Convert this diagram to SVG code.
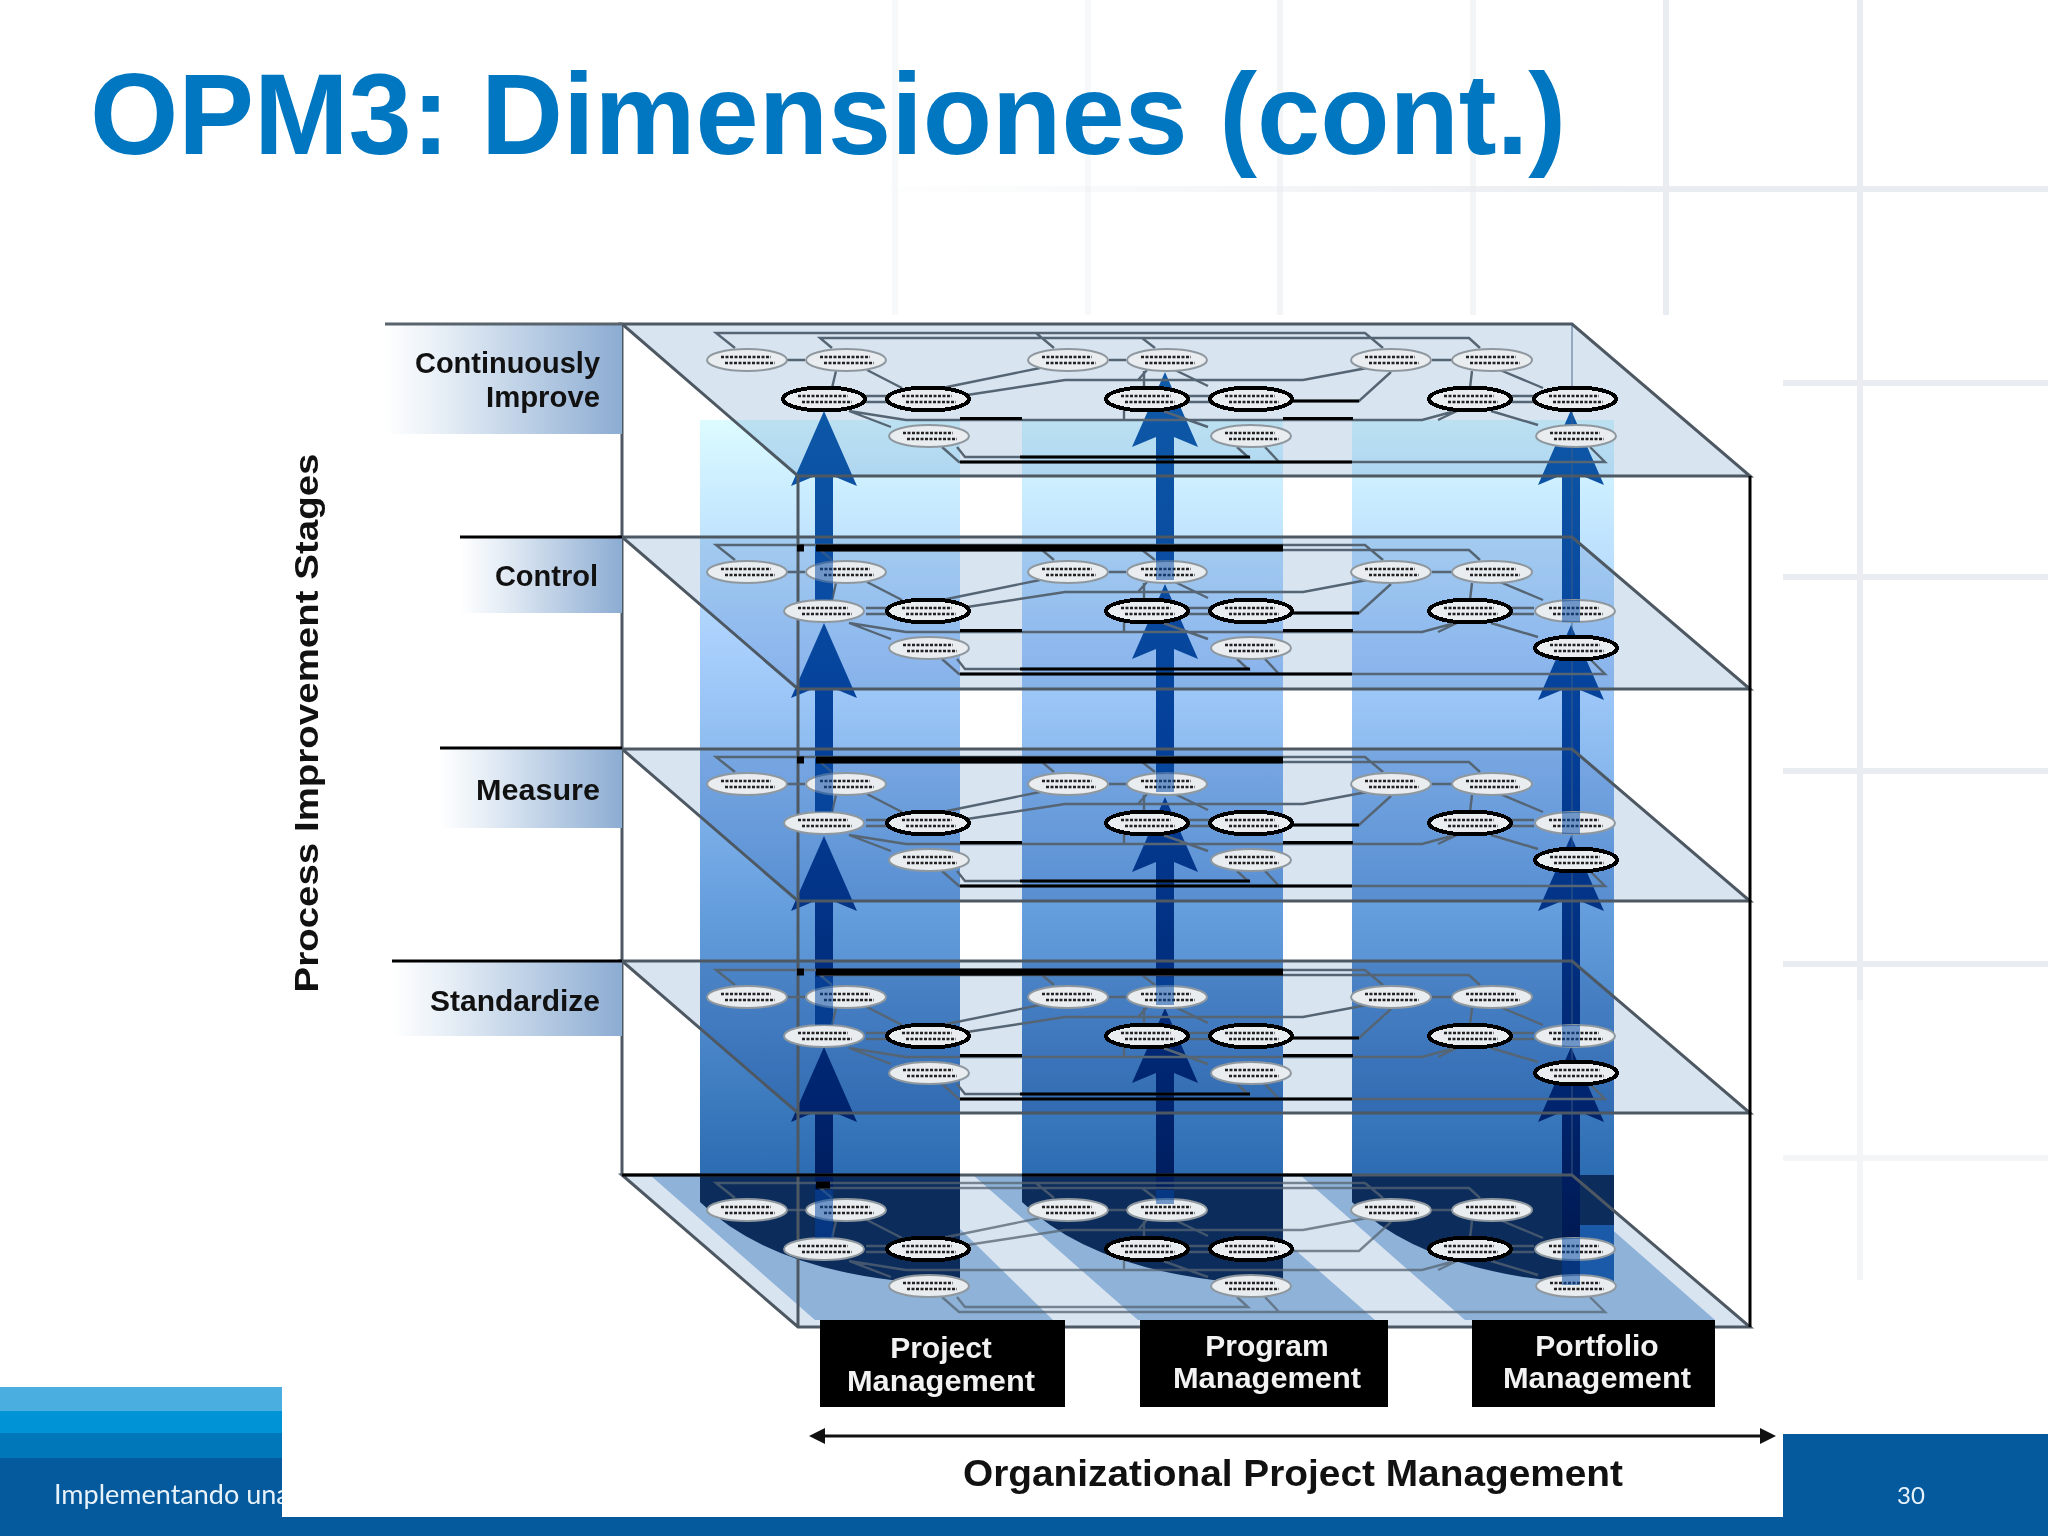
<svg xmlns="http://www.w3.org/2000/svg" xmlns:xlink="http://www.w3.org/1999/xlink" width="2048" height="1536" viewBox="0 0 2048 1536">
<style>
text{font-family:"Liberation Sans",Arial,sans-serif;font-weight:700}
.grid{stroke:#e9ecf0;stroke-width:6;fill:none}
.plane{fill:#d9e4f1;mix-blend-mode:multiply}
.w{fill:none;stroke:#566573;stroke-width:2.4}
.wk{fill:none;stroke:#000;stroke-width:3}
.edge{fill:none;stroke:#4d5862;stroke-width:3}
.lab{font-size:29px;fill:#111;text-anchor:end}
.box{fill:#000}
.boxt{font-size:30px;fill:#f2f2f2;text-anchor:middle}
.foot{font-family:Lato,"Open Sans",sans-serif;font-weight:400;font-size:27px;fill:#e8f2fa}
.thin{fill:#e9edf0;stroke:#8f989f;stroke-width:2}
.bold{fill:#e9edf0;stroke:#000;stroke-width:4;shape-rendering:crispEdges}
.txt{fill:none;stroke:#222;stroke-width:2.6;stroke-dasharray:3 1.5}
</style>
<defs>
<linearGradient id="band" gradientUnits="userSpaceOnUse" x1="0" y1="420" x2="0" y2="1175">
<stop offset="0" stop-color="#dcfcff"/><stop offset=".08" stop-color="#cdefff"/><stop offset=".3" stop-color="#a8cffc"/><stop offset=".62" stop-color="#6aa2e0"/><stop offset="1" stop-color="#2c6cb2"/>
</linearGradient>
<linearGradient id="arrow" gradientUnits="userSpaceOnUse" x1="0" y1="372" x2="0" y2="1285">
<stop offset="0" stop-color="#0f5aa8"/><stop offset=".4" stop-color="#04409a"/><stop offset=".8" stop-color="#00246e"/><stop offset="1" stop-color="#00164a"/>
</linearGradient>
<linearGradient id="tab"><stop offset="0" stop-color="#fff"/><stop offset=".25" stop-color="#e6eef6"/><stop offset="1" stop-color="#8cacd2"/></linearGradient>
<linearGradient id="gridfade" gradientUnits="userSpaceOnUse" x1="850" y1="0" x2="1650" y2="0">
<stop offset="0" stop-color="#e9ecf0" stop-opacity="0"/><stop offset="1" stop-color="#e9ecf0"/>
</linearGradient>
<polygon id="pl" points="622,324 1572,324 1750,476 798,476"/>
<g id="t"><ellipse class="thin" rx="40" ry="11"/><path class="txt" d="M-26-3H24M-22 3H28"/></g>
<g id="b"><ellipse class="bold" rx="41" ry="11.500"/><path class="txt" d="M-26-3H24M-22 3H28"/></g>
<g id="wires">
<path class="w" d="M735 348L716 333H1365L1383 348M1036 333L1054 348M832 348L820 338H1469L1480 348M1142 338L1155 348"/>
<path class="w" d="M787 360H805M1109 360H1126M1432 360H1452M836 371L832 388M1144 371V388M1472 371L1470 388M867 370L902 388M1175 370L1208 386M1500 370L1543 388"/>
<path class="w" d="M866 396H888M866 402H888M1188 396H1210M1188 402H1210M1512 396H1534M1512 402H1534"/>
<path class="w" d="M942 388L1040 368M967 395L1065 380H1303L1367 368M1138 380L1147 370M1291 401H1359L1391 372"/>
<path class="w" d="M849 411L906 420H1422L1459 410L1438 420M1124 410V420M849 411L891 427M1163 411L1208 427M1491 411L1538 425"/>
<path class="w" d="M942 447L959 462H1605L1590 447M957 447L965 457H1248L1237 447M1265 447L1279 462"/>
</g>
<g id="wiresk">
<path class="wk" d="M960 418.500H1022M1283 418.500H1353M1020 457H1250M960 462H1352M1291 401H1359"/>
</g>
<path id="wtop" d="M816 548H1283M797 548H804" stroke="#000" stroke-width="7" fill="none"/>
</defs>

<rect width="2048" height="1536" fill="#fff"/>
<g id="background-grid">
<path class="grid" opacity=".35" d="M895 0V315M1088 0V315"/>
<path class="grid" opacity=".6" d="M1280 0V315M1473 0V315"/>
<path class="grid" d="M1666 0V315M1860 0V1000M1783 383H2048M1783 577H2048M1783 771H2048M1783 964H2048"/>
<path d="M850 189H1650" stroke="url(#gridfade)" stroke-width="6" fill="none"/>
<path class="grid" d="M1650 189H2048"/>
<path class="grid" opacity=".5" d="M1783 1158H2048M1860 1000V1280"/>
</g>
<rect id="image-ground" x="282" y="315" width="1501" height="1202" fill="#fff"/>

<g id="footer">
<rect x="0" y="1387" width="282" height="24" fill="#4baee0"/>
<rect x="0" y="1411" width="282" height="22" fill="#0093d6"/>
<rect x="0" y="1433" width="282" height="25" fill="#0077b8"/>
<rect x="0" y="1458" width="282" height="78" fill="#045a9c"/>
<text class="foot" x="54" y="1504">Implementando una</text>
<rect x="282" y="1387" width="40" height="130" fill="#fff"/>
<rect x="1783" y="1434" width="265" height="102" fill="#045a9c"/>
<rect x="0" y="1517" width="2048" height="19" fill="#045a9c"/>
<text class="foot" x="1911" y="1504" text-anchor="middle" style="font-size:24px">30</text>
</g>

<text id="title" x="90" y="154" font-size="115" fill="#0077c0" textLength="1476" lengthAdjust="spacingAndGlyphs">OPM3: Dimensiones (cont.)</text>

<g id="bands" fill="url(#band)">
<rect x="700" y="420" width="260" height="755"/>
<rect x="1022" y="420" width="261" height="755"/>
<rect x="1352" y="420" width="262" height="755"/>
</g>

<g id="floor">
<polygon points="622,1175 1572,1175 1750,1326 798,1326" fill="#d9e4f1"/>
<g fill="#8fb2d8">
<polygon points="650,1175 905,1175 1053,1320 815,1320"/>
<polygon points="973,1175 1210,1175 1375,1320 1138,1320"/>
<polygon points="1300,1175 1550,1175 1715,1320 1465,1320"/>
</g>
<g fill="#0c2c5c">
<path d="M700 1175H960V1285Q780 1280 700 1202Z"/>
<path d="M1022 1175H1283V1285Q1102 1280 1022 1202Z"/>
<path d="M1352 1175H1614V1285Q1432 1280 1352 1202Z"/>
</g>
<rect x="1572" y="1225" width="42" height="60" fill="#1a5aa8"/>
</g>

<g id="planes">
<use href="#pl" class="plane"/>
<use href="#pl" class="plane" y="213"/>
<use href="#pl" class="plane" y="425"/>
<use href="#pl" class="plane" y="637"/>
</g>

<g id="arrows" fill="url(#arrow)">
<path d="M824 411L857 486L833 476V608H815V476L791 486ZM824 623L857 698L833 688V821H815V688L791 698ZM824 836L857 911L833 901V1032H815V901L791 911ZM824 1047L857 1122L833 1112V1243H815V1112L791 1122Z"/>
<path d="M1165 372L1198 447L1174 437V570H1156V437L1132 447ZM1165 584L1198 659L1174 649V783H1156V649L1132 659ZM1165 797L1198 872L1174 862V994H1156V862L1132 872ZM1165 1008L1198 1083L1174 1073V1205H1156V1073L1132 1083Z"/>
<path d="M1571 410L1604 485L1580 475V612H1562V475L1538 485ZM1571 625L1604 700L1580 690V822H1562V690L1538 700ZM1571 836L1604 911L1580 901V1033H1562V901L1538 911ZM1571 1047L1604 1122L1580 1112V1285H1562V1112L1538 1122Z"/>
</g>

<g id="frame">
<path class="edge" d="M622 324H1572L1750 476H798ZM622 537H1572L1750 689H798ZM622 749H1572L1750 901H798ZM622 961H1572L1750 1113H798Z"/>
<path class="edge" d="M622 1175H1572L1750 1327H798ZM622 324V1175M798 476V1327"/>
<path d="M1750 476V1327" stroke="#000" stroke-width="3" fill="none"/>
<path d="M1572 324V1175" stroke="#3f5f86" stroke-width="1.500" fill="none" opacity=".6"/>
<path d="M622 1175H798M1022 1175H1352M700 1175H960" stroke="#000" stroke-width="3" fill="none"/>
</g>

<g id="connectors">
<use href="#wires"/><use href="#wiresk"/>
<use href="#wires" y="212"/><use href="#wiresk" y="212"/><use href="#wtop" y="0"/>
<use href="#wires" y="424"/><use href="#wiresk" y="424"/><use href="#wtop" y="212"/>
<use href="#wires" y="637"/><use href="#wiresk" y="637"/><use href="#wtop" y="424"/>
<use href="#wires" y="850" opacity=".75"/>
<path d="M816 1185H830" stroke="#000" stroke-width="7"/>
</g>

<g id="nodes">
<g id="n111"><use href="#t" x="747" y="360"/></g><g id="n112"><use href="#t" x="846" y="360"/></g><g id="n113"><use href="#b" x="824" y="399"/></g><g id="n114"><use href="#b" x="928" y="399"/></g><g id="n115"><use href="#t" x="929" y="436"/></g>
<g id="n121"><use href="#t" x="1068" y="360"/></g><g id="n122"><use href="#t" x="1167" y="360"/></g><g id="n123"><use href="#b" x="1147" y="399"/></g><g id="n124"><use href="#b" x="1251" y="399"/></g><g id="n125"><use href="#t" x="1251" y="436"/></g>
<g id="n131"><use href="#t" x="1391" y="360"/></g><g id="n132"><use href="#t" x="1492" y="360"/></g><g id="n133"><use href="#b" x="1470" y="399"/></g><g id="n134"><use href="#b" x="1575" y="399"/></g><g id="n135"><use href="#t" x="1576" y="436"/></g>

<g id="n211"><use href="#t" x="747" y="572"/></g><g id="n212"><use href="#t" x="846" y="572"/></g><g id="n213"><use href="#t" x="824" y="611"/></g><g id="n214"><use href="#b" x="928" y="611"/></g><g id="n215"><use href="#t" x="929" y="648"/></g>
<g id="n221"><use href="#t" x="1068" y="572"/></g><g id="n222"><use href="#t" x="1167" y="572"/></g><g id="n223"><use href="#b" x="1147" y="611"/></g><g id="n224"><use href="#b" x="1251" y="611"/></g><g id="n225"><use href="#t" x="1251" y="648"/></g>
<g id="n231"><use href="#t" x="1391" y="572"/></g><g id="n232"><use href="#t" x="1492" y="572"/></g><g id="n233"><use href="#b" x="1470" y="611"/></g><g id="n234"><use href="#t" x="1575" y="611"/></g><g id="n235"><use href="#b" x="1576" y="648"/></g>

<g id="n311"><use href="#t" x="747" y="784"/></g><g id="n312"><use href="#t" x="846" y="784"/></g><g id="n313"><use href="#t" x="824" y="823"/></g><g id="n314"><use href="#b" x="928" y="823"/></g><g id="n315"><use href="#t" x="929" y="860"/></g>
<g id="n321"><use href="#t" x="1068" y="784"/></g><g id="n322"><use href="#t" x="1167" y="784"/></g><g id="n323"><use href="#b" x="1147" y="823"/></g><g id="n324"><use href="#b" x="1251" y="823"/></g><g id="n325"><use href="#t" x="1251" y="860"/></g>
<g id="n331"><use href="#t" x="1391" y="784"/></g><g id="n332"><use href="#t" x="1492" y="784"/></g><g id="n333"><use href="#b" x="1470" y="823"/></g><g id="n334"><use href="#t" x="1575" y="823"/></g><g id="n335"><use href="#b" x="1576" y="860"/></g>

<g id="n411"><use href="#t" x="747" y="997"/></g><g id="n412"><use href="#t" x="846" y="997"/></g><g id="n413"><use href="#t" x="824" y="1036"/></g><g id="n414"><use href="#b" x="928" y="1036"/></g><g id="n415"><use href="#t" x="929" y="1073"/></g>
<g id="n421"><use href="#t" x="1068" y="997"/></g><g id="n422"><use href="#t" x="1167" y="997"/></g><g id="n423"><use href="#b" x="1147" y="1036"/></g><g id="n424"><use href="#b" x="1251" y="1036"/></g><g id="n425"><use href="#t" x="1251" y="1073"/></g>
<g id="n431"><use href="#t" x="1391" y="997"/></g><g id="n432"><use href="#t" x="1492" y="997"/></g><g id="n433"><use href="#b" x="1470" y="1036"/></g><g id="n434"><use href="#t" x="1575" y="1036"/></g><g id="n435"><use href="#b" x="1576" y="1073"/></g>

<g id="n511"><use href="#t" x="747" y="1210"/></g><g id="n512"><use href="#t" x="846" y="1210"/></g><g id="n513"><use href="#t" x="824" y="1249"/></g><g id="n514"><use href="#b" x="928" y="1249"/></g><g id="n515"><use href="#t" x="929" y="1286"/></g>
<g id="n521"><use href="#t" x="1068" y="1210"/></g><g id="n522"><use href="#t" x="1167" y="1210"/></g><g id="n523"><use href="#b" x="1147" y="1249"/></g><g id="n524"><use href="#b" x="1251" y="1249"/></g><g id="n525"><use href="#t" x="1251" y="1286"/></g>
<g id="n531"><use href="#t" x="1391" y="1210"/></g><g id="n532"><use href="#t" x="1492" y="1210"/></g><g id="n533"><use href="#b" x="1470" y="1249"/></g><g id="n534"><use href="#t" x="1575" y="1249"/></g><g id="n535"><use href="#t" x="1576" y="1286"/></g>
</g>

<g id="arrow-overlay" fill="#0b4fa6" opacity=".55">
<path d="M815 552H833V600H815ZM815 764H833V812H815ZM815 977H833V1025H815ZM815 1190H833V1238H815ZM1156 552H1174V580H1156ZM1156 764H1174V792H1156ZM1156 977H1174V1005H1156ZM1156 1190H1174V1204H1156ZM1562 600H1580V622H1562ZM1562 812H1580V834H1562ZM1562 1025H1580V1047H1562ZM1562 1238H1580V1285H1562Z"/>
</g>

<g id="stage-continuously">
<rect x="385" y="324" width="237" height="110" fill="url(#tab)"/><path d="M385 324H622" stroke="#59636c" stroke-width="3"/>
<text class="lab" x="600" y="373" textLength="185" lengthAdjust="spacingAndGlyphs">Continuously</text><text class="lab" x="600" y="407" textLength="114" lengthAdjust="spacingAndGlyphs">Improve</text>
</g>
<g id="stage-control">
<rect x="460" y="537" width="162" height="76" fill="url(#tab)"/><path d="M460 537H622" stroke="#000" stroke-width="3"/>
<text class="lab" x="598" y="586">Control</text>
</g>
<g id="stage-measure">
<rect x="440" y="748" width="182" height="80" fill="url(#tab)"/><path d="M440 748H622" stroke="#000" stroke-width="3"/>
<text class="lab" x="600" y="800" textLength="124" lengthAdjust="spacingAndGlyphs">Measure</text>
</g>
<g id="stage-standardize">
<rect x="392" y="961" width="230" height="75" fill="url(#tab)"/><path d="M392 961H622" stroke="#000" stroke-width="3"/>
<text class="lab" x="600" y="1011" textLength="170" lengthAdjust="spacingAndGlyphs">Standardize</text>
</g>
<text id="axis-y" transform="translate(318 723) rotate(-90)" font-size="33" fill="#111" text-anchor="middle" textLength="539" lengthAdjust="spacingAndGlyphs">Process Improvement Stages</text>

<g id="dim-project"><rect class="box" x="820" y="1320" width="245" height="87"/><text class="boxt" x="941" y="1358">Project</text><text class="boxt" x="941" y="1391" textLength="188" lengthAdjust="spacingAndGlyphs">Management</text></g>
<g id="dim-program"><rect class="box" x="1140" y="1320" width="248" height="87"/><text class="boxt" x="1267" y="1356">Program</text><text class="boxt" x="1267" y="1388" textLength="188" lengthAdjust="spacingAndGlyphs">Management</text></g>
<g id="dim-portfolio"><rect class="box" x="1472" y="1320" width="243" height="87"/><text class="boxt" x="1597" y="1356">Portfolio</text><text class="boxt" x="1597" y="1388" textLength="188" lengthAdjust="spacingAndGlyphs">Management</text></g>

<g id="axis-x">
<path d="M822 1436H1764" stroke="#111" stroke-width="3" fill="none"/>
<path d="M809 1436L825 1428V1444ZM1776 1436L1760 1428V1444Z" fill="#111"/>
<text x="1293" y="1486" font-size="36" fill="#111" text-anchor="middle" textLength="660" lengthAdjust="spacingAndGlyphs">Organizational Project Management</text>
</g>
</svg>
